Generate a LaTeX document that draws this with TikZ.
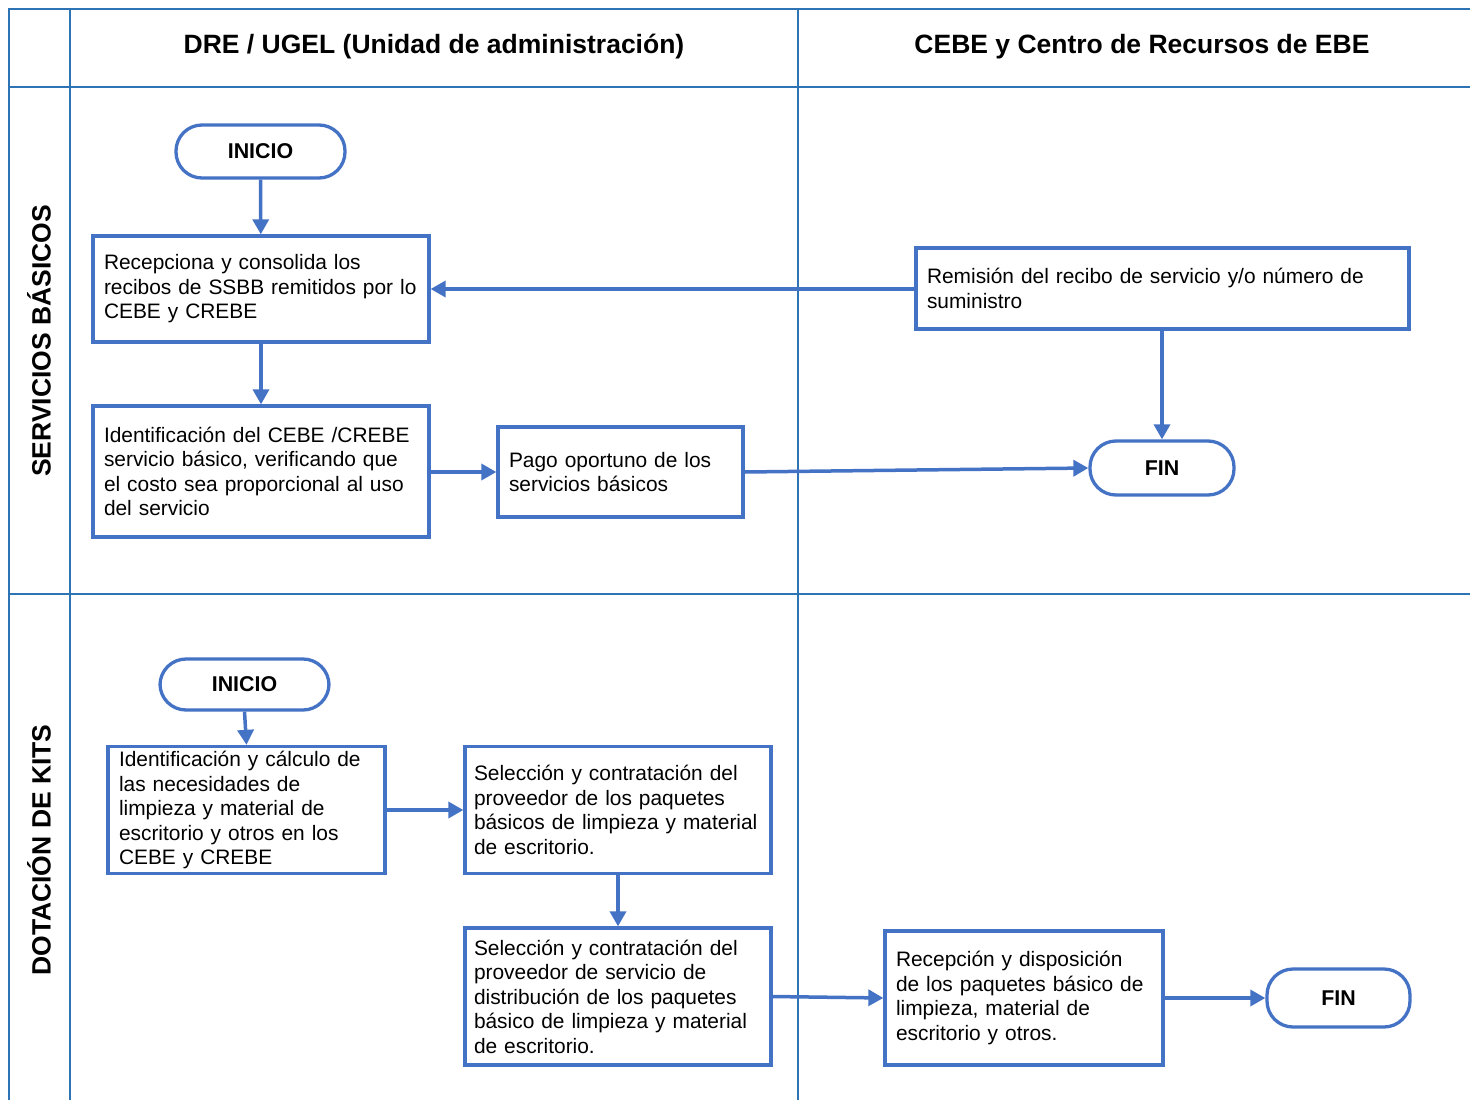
\documentclass[tikz,border=0pt]{standalone}
\usepackage{fontspec}
\setmainfont{Liberation Sans}
\usetikzlibrary{arrows.meta}
\definecolor{lanec}{HTML}{2E74B5}
\definecolor{boxc}{HTML}{4472C4}
\tikzset{
  lane/.style={draw=lanec, line width=1.8pt},
  procbox/.style={draw=boxc, line width=3.3pt, align=left, inner xsep=11pt, inner ysep=0pt,
     font=\fontsize{20.9}{24.5}\selectfont, anchor=center},
  term/.style={draw=boxc, line width=3.3pt, rounded corners=26pt, align=center,
     font=\fontsize{21.4}{24}\selectfont\bfseries, anchor=center},
  flow/.style={draw=boxc, line width=3.5pt, -{Triangle[length=15pt,width=16pt]}},
  hdr/.style={font=\fontsize{26.5}{30}\selectfont\bfseries},
}
\begin{document}
\begin{tikzpicture}[x=1pt,y=-1pt]
\useasboundingbox (0,0) rectangle (1470,1100);
% lanes
\draw[lane] (9,1100) -- (9,9) -- (1470,9);
\draw[lane] (9,87) -- (1470,87);
\draw[lane] (9,594) -- (1470,594);
\draw[lane] (70,9) -- (70,1100);
\draw[lane] (798,9) -- (798,1100);
\node[hdr] (h1) at (434,47) {DRE / UGEL (Unidad de administración)};
\node[hdr] (h2) at (1142,47) {CEBE y Centro de Recursos de EBE};
\node[hdr, rotate=90] (l1) at (39,341) {SERVICIOS BÁSICOS};
\node[hdr, rotate=90] (l2) at (39,850) {DOTACIÓN DE KITS};
% upper lane
\node[term, minimum width=169pt, minimum height=53pt] (ini1) at (260.5,151.5) {INICIO};
\node[procbox, minimum width=336pt, minimum height=106pt, text width=314pt] (b1) at (261,289)
  {Recepciona y consolida los\\recibos de SSBB remitidos por lo\\CEBE y CREBE};
\node[procbox, minimum width=493pt, minimum height=81pt, text width=471pt] (b2) at (1162.5,288.5)
  {Remisión del recibo de servicio y/o número de\\suministro};
\node[procbox, minimum width=336pt, minimum height=131pt, text width=314pt] (b3) at (261,471.5)
  {Identificación del CEBE /CREBE\\servicio básico, verificando que\\el costo sea proporcional al uso\\del servicio};
\node[procbox, minimum width=245pt, minimum height=90pt, text width=223pt] (b4) at (620.5,472)
  {Pago oportuno de los\\servicios básicos};
\node[term, minimum width=144pt, minimum height=54pt] (fin1) at (1162,468) {FIN};
\draw[flow] (ini1) -- (b1);
\draw[flow] (b2.west |- b1.east) -- (b1.east);
\draw[flow] (b1) -- (b3);
\draw[flow] (b3.east |- b4.west) -- (b4.west);
\draw[flow] (b4.east) -- (fin1.west);
\draw[flow] (b2.south -| fin1.north) -- (fin1.north);
% lower lane
\node[term, minimum width=169pt, minimum height=51pt] (ini2) at (244.5,684.5) {INICIO};
\node[procbox, minimum width=277pt, minimum height=127pt, text width=255pt] (b5) at (246.5,810)
  {Identificación y cálculo de\\las necesidades de\\limpieza y material de\\escritorio y otros en los\\CEBE y CREBE};
\node[procbox, minimum width=306pt, minimum height=127pt, text width=288pt, inner xsep=9pt] (b6) at (618,810)
  {Selección y contratación del\\proveedor de los paquetes\\básicos de limpieza y material\\de escritorio.};
\node[procbox, minimum width=306pt, minimum height=137pt, text width=288pt, inner xsep=9pt] (b7) at (618,996.5)
  {Selección y contratación del\\proveedor de servicio de\\distribución de los paquetes\\básico de limpieza y material\\de escritorio.};
\node[procbox, minimum width=278pt, minimum height=134pt, text width=256pt] (b8) at (1024,998)
  {Recepción y disposición\\de los paquetes básico de\\limpieza, material de\\escritorio y otros.};
\node[term, minimum width=143pt, minimum height=58pt] (fin2) at (1338.5,998) {FIN};
\draw[flow] (ini2.south) -- (b5.north);
\draw[flow] (b5) -- (b6);
\draw[flow] (b6) -- (b7);
\draw[flow] (b7.east) -- (b8.west);
\draw[flow] (b8.east) -- (fin2.west);
\end{tikzpicture}
\end{document}
